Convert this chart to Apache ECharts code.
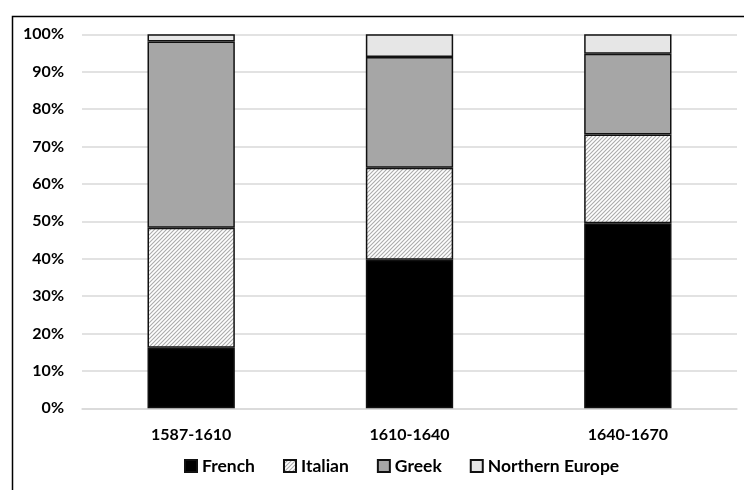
<!DOCTYPE html>
<html>
<head>
<meta charset="utf-8">
<script src="https://cdn.jsdelivr.net/npm/echarts@6/dist/echarts.min.js"></script>
<style>
html,body{margin:0;padding:0;background:#fff;}
#c{width:744px;height:490px;}
</style>
</head>
<body>
<div id="c"></div>
<script>
const categories = ['1587-1610', '1610-1640', '1640-1670'];
const french = [16.2, 39.7, 49.5];
const italian = [32.1, 24.6, 23.7];
const greek = [49.8, 29.6, 21.6];
const northern = [1.9, 6.1, 5.2];
const seriesNames = ['French', 'Italian', 'Greek', 'Northern Europe'];

// diagonal hatch pattern
const pc = document.createElement('canvas');
pc.width = 4; pc.height = 4;
const g = pc.getContext('2d');
g.fillStyle = '#ffffff';
g.fillRect(0, 0, 4, 4);
g.strokeStyle = '#ababab';
g.lineWidth = 1.1;
g.beginPath();
g.moveTo(-1, 5); g.lineTo(5, -1);
g.moveTo(-1, 1); g.lineTo(1, -1);
g.moveTo(3, 5); g.lineTo(5, 3);
g.stroke();
const hatch = { image: pc, repeat: 'repeat' };

const font = 'Lato, "Open Sans", sans-serif';
const border = { borderColor: '#111', borderWidth: 1.5 };

const chart = echarts.init(document.getElementById('c'), null, { renderer: 'canvas' });
chart.setOption({
  animation: false,
  backgroundColor: '#fff',
  graphic: [{
    type: 'rect', left: 10, top: 14, silent: true, z: 100,
    shape: { x: 0, y: 0, width: 1000, height: 1000 },
    style: { fill: 'none', stroke: '#000', lineWidth: 1.5 }
  }],
  grid: { left: 82, right: 7, top: 34.3, bottom: 81.7 },
  legend: {
    bottom: 10, left: 179,
    itemWidth: 12, itemHeight: 12, itemGap: 28,
    icon: 'rect',
    textStyle: { fontFamily: font, fontWeight: 'bold', fontSize: 17.5, color: '#000' },
    data: seriesNames
  },
  xAxis: {
    type: 'category', data: categories,
    axisLine: { lineStyle: { color: '#d9d9d9', width: 1.5 } },
    axisTick: { show: false },
    axisLabel: { fontFamily: font, fontWeight: 'bold', fontSize: 16, color: '#000', margin: 19 }
  },
  yAxis: {
    type: 'value', min: 0, max: 100, interval: 10,
    axisLabel: { formatter: '{value}%', fontFamily: font, fontWeight: 'bold', fontSize: 16, color: '#000', margin: 18 },
    axisLine: { show: false }, axisTick: { show: false },
    splitLine: { lineStyle: { color: '#d9d9d9', width: 1.5 } }
  },
  series: [
    { name: seriesNames[0], type: 'bar', stack: 's', data: french, barWidth: '40%', itemStyle: Object.assign({ color: '#000' }, border) },
    { name: seriesNames[1], type: 'bar', stack: 's', data: italian, itemStyle: Object.assign({ color: hatch }, border) },
    { name: seriesNames[2], type: 'bar', stack: 's', data: greek, itemStyle: Object.assign({ color: '#a6a6a6' }, border) },
    { name: seriesNames[3], type: 'bar', stack: 's', data: northern, itemStyle: Object.assign({ color: '#e6e6e6' }, border) }
  ]
});
</script>
</body>
</html>
